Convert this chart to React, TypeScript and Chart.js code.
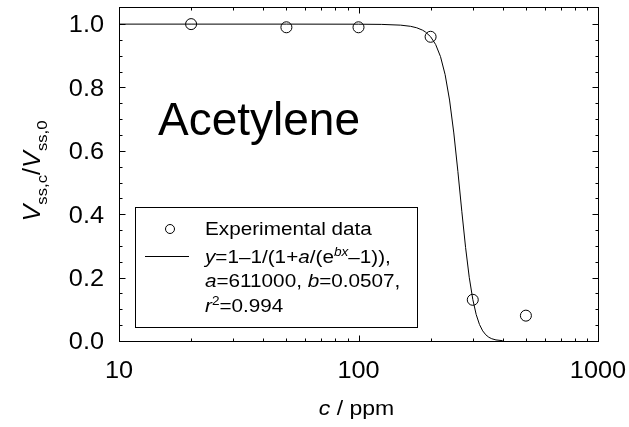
import React, { useEffect, useRef } from "react";
import { Chart, registerables } from "chart.js";

Chart.register(...registerables);

// Experimental data
const EXP_C = [20, 50, 100, 200, 300, 500];
const EXP_V = [1.0, 0.99, 0.99, 0.96, 0.13, 0.08];

// Fitted curve (values read / tabulated for the fit shown in the legend)
const FIT_C = [10, 20, 50, 100, 125, 150, 165, 175, 185, 190, 200, 210, 220, 230, 240, 250, 260, 270, 280, 290, 300, 310, 320, 330, 340, 350, 360, 375, 400];
const FIT_V = [1.0, 1.0, 1.0, 0.99974, 0.99908, 0.99672, 0.99302, 0.98846, 0.98099, 0.97564, 0.9602, 0.93559, 0.89742, 0.84049, 0.7604, 0.65653, 0.53515, 0.40947, 0.2946, 0.20099, 0.13157, 0.08362, 0.0521, 0.03204, 0.01955, 0.01187, 0.00718, 0.00337, 0.00095];

// Axis ticks
const X_MAJOR = [10, 100, 1000];
const X_TICK_LABELS = ["10", "100", "1000"];
const X_MINOR = [20, 30, 40, 50, 60, 70, 80, 90, 200, 300, 400, 500, 600, 700, 800, 900];
const Y_MAJOR = [0, 0.2, 0.4, 0.6, 0.8, 1.0];
const Y_TICK_LABELS = ["0.0", "0.2", "0.4", "0.6", "0.8", "1.0"];
const Y_MINOR = [0.05, 0.1, 0.15, 0.25, 0.3, 0.35, 0.45, 0.5, 0.55, 0.65, 0.7, 0.75, 0.85, 0.9, 0.95];

const TITLE_TEXT = "Acetylene";
const LEGEND_EXP = "Experimental data";

type Part = { t: string; i?: boolean; s?: "sup" | "sub" };
const FONT = '"Liberation Sans", Arial, Helvetica, sans-serif';

function setFont(ctx: CanvasRenderingContext2D, p: Part, size: number) {
  const fs = p.s ? size * 0.66 : size;
  ctx.font = `${p.i ? "italic " : ""}${fs}px ${FONT}`;
}

function partsWidth(ctx: CanvasRenderingContext2D, parts: Part[], size: number) {
  let w = 0;
  for (const p of parts) {
    setFont(ctx, p, size);
    w += ctx.measureText(p.t).width;
  }
  return w;
}

function drawParts(
  ctx: CanvasRenderingContext2D,
  parts: Part[],
  x: number,
  y: number,
  size: number,
  align: "left" | "center" | "right",
  sx = 1
) {
  const w = partsWidth(ctx, parts, size) * sx;
  const x0 = align === "left" ? x : align === "center" ? x - w / 2 : x - w;
  ctx.save();
  ctx.translate(x0, y);
  ctx.scale(sx, 1);
  ctx.textAlign = "left";
  ctx.textBaseline = "alphabetic";
  ctx.fillStyle = "#000";
  let cx = 0;
  for (const p of parts) {
    setFont(ctx, p, size);
    const dy = p.s === "sup" ? -size * 0.4 : p.s === "sub" ? size * 0.3 : 0;
    ctx.fillText(p.t, cx, dy);
    cx += ctx.measureText(p.t).width;
  }
  ctx.restore();
}

const decorPlugin = {
  id: "decor",
  afterDraw(chart: any) {
    const ctx: CanvasRenderingContext2D = chart.ctx;
    const { left, top, right, bottom } = chart.chartArea;
    const xs = chart.scales.x;
    const ys = chart.scales.y;
    ctx.save();
    ctx.strokeStyle = "#000";
    ctx.lineWidth = 1;
    // frame
    ctx.strokeRect(Math.round(left) + 0.5, Math.round(top) + 0.5, Math.round(right - left), Math.round(bottom - top));
    // ticks (inward, all four sides)
    const B = Math.round(bottom) + 0.5;
    const T = Math.round(top) + 0.5;
    const L = Math.round(left) + 0.5;
    const R = Math.round(right) + 0.5;
    ctx.beginPath();
    const xt = (v: number, len: number) => {
      const p = Math.round(xs.getPixelForValue(v)) + 0.5;
      ctx.moveTo(p, B);
      ctx.lineTo(p, B - len);
      ctx.moveTo(p, T);
      ctx.lineTo(p, T + len);
    };
    const yt = (v: number, len: number) => {
      const p = Math.round(ys.getPixelForValue(v)) + 0.5;
      ctx.moveTo(L, p);
      ctx.lineTo(L + len, p);
      ctx.moveTo(R, p);
      ctx.lineTo(R - len, p);
    };
    X_MAJOR.forEach((v) => xt(v, 6));
    X_MINOR.forEach((v) => xt(v, 3));
    Y_MAJOR.forEach((v) => yt(v, 6));
    Y_MINOR.forEach((v) => yt(v, 3));
    ctx.stroke();

    // tick labels
    const TS = 23;
    X_MAJOR.forEach((v, i) => {
      drawParts(ctx, [{ t: X_TICK_LABELS[i] }], xs.getPixelForValue(v), bottom + 37, TS, "center", 1.1);
    });
    Y_MAJOR.forEach((v, i) => {
      drawParts(ctx, [{ t: Y_TICK_LABELS[i] }], left - 15, ys.getPixelForValue(v) + TS * 0.36, TS, "right", 1.1);
    });

    // x title
    drawParts(ctx, [{ t: "c", i: true }, { t: " / ppm" }], (left + right) / 2 - 2, bottom + 74, 20, "center", 1.15);

    // y title
    ctx.save();
    ctx.translate(left - 79, (top + bottom) / 2 - 3);
    ctx.rotate(-Math.PI / 2);
    drawParts(
      ctx,
      [
        { t: "V", i: true },
        { t: "ss,c", s: "sub" },
        { t: "/" },
        { t: "V", i: true },
        { t: "ss,0", s: "sub" },
      ],
      0,
      0,
      23,
      "center",
      1.1
    );
    ctx.restore();

    // big label
    drawParts(ctx, [{ t: TITLE_TEXT }], left + 39, top + 128, 46, "left");

    // legend
    const lx = left + 16;
    const ly = top + 200;
    ctx.fillStyle = "#fff";
    ctx.fillRect(Math.round(lx) + 0.5, Math.round(ly) + 0.5, 282, 120);
    ctx.strokeStyle = "#000";
    ctx.lineWidth = 1;
    ctx.strokeRect(Math.round(lx) + 0.5, Math.round(ly) + 0.5, 282, 120);
    // symbol: circle
    ctx.beginPath();
    ctx.arc(lx + 35, ly + 22, 4.5, 0, Math.PI * 2);
    ctx.stroke();
    // symbol: line
    ctx.beginPath();
    ctx.moveTo(lx + 10, Math.round(ly + 49) + 0.5);
    ctx.lineTo(lx + 54, Math.round(ly + 49) + 0.5);
    ctx.stroke();
    const LS = 18;
    const SX = 1.15;
    const tx = lx + 70;
    drawParts(ctx, [{ t: LEGEND_EXP }], tx, ly + 28, LS, "left", SX);
    drawParts(
      ctx,
      [
        { t: "y", i: true },
        { t: "=1\u20131/(1+" },
        { t: "a", i: true },
        { t: "/(e" },
        { t: "bx", i: true, s: "sup" },
        { t: "\u20131))," },
      ],
      tx,
      ly + 56,
      LS,
      "left",
      SX
    );
    drawParts(
      ctx,
      [{ t: "a", i: true }, { t: "=611000, " }, { t: "b", i: true }, { t: "=0.0507," }],
      tx,
      ly + 80,
      LS,
      "left",
      SX
    );
    drawParts(ctx, [{ t: "r", i: true }, { t: "2", s: "sup" }, { t: "=0.994" }], tx, ly + 105, LS, "left", SX);
    ctx.restore();
  },
};

export default function App() {
  const ref = useRef<HTMLCanvasElement | null>(null);
  useEffect(() => {
    if (!ref.current) return;
    const chart = new Chart(ref.current, {
      type: "scatter",
      data: {
        datasets: [
          {
            label: "fit",
            data: FIT_C.map((c, i) => ({ x: c, y: FIT_V[i] })),
            showLine: true,
            borderColor: "#000",
            borderWidth: 1,
            pointRadius: 0,
            fill: false,
            tension: 0,
          },
          {
            label: LEGEND_EXP,
            data: EXP_C.map((c, i) => ({ x: c, y: EXP_V[i] })),
            showLine: false,
            pointStyle: "circle",
            pointRadius: 5.5,
            borderColor: "#000",
            backgroundColor: "rgba(0,0,0,0)",
            borderWidth: 1,
          },
        ],
      },
      options: {
        responsive: false,
        animation: false,
        layout: { padding: { top: 7, right: 31, left: 0, bottom: 0 } },
        plugins: { legend: { display: false }, tooltip: { enabled: false } },
        scales: {
          x: {
            type: "logarithmic",
            min: 10,
            max: 1000,
            grid: { display: false },
            border: { display: false },
            ticks: { display: false },
            afterFit: (s: any) => {
              s.height = 86;
            },
          },
          y: {
            type: "linear",
            min: 0,
            max: 1.054,
            grid: { display: false },
            border: { display: false },
            ticks: { display: false },
            afterFit: (s: any) => {
              s.width = 119;
            },
          },
        },
      } as any,
      plugins: [decorPlugin],
    });
    return () => chart.destroy();
  }, []);
  return (
    <div style={{ position: "fixed", left: 0, top: 0, width: 629, height: 427, background: "#fff" }}>
      <canvas ref={ref} width={629} height={427} style={{ display: "block" }} />
    </div>
  );
}
